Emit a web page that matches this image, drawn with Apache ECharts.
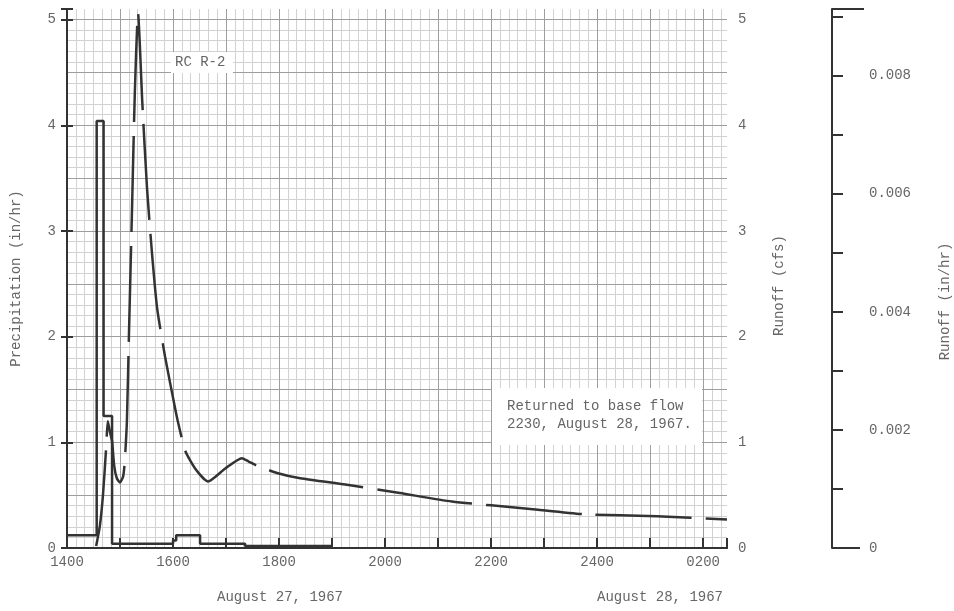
<!DOCTYPE html>
<html><head><meta charset="utf-8">
<script src="https://cdn.jsdelivr.net/npm/echarts@6/dist/echarts.min.js"></script>
<style>html,body{margin:0;padding:0;background:#fff}#c{width:954px;height:611px}</style>
</head><body><div id="c"></div>
<script>
// ---- data ----
const xTickHours = [14, 16, 18, 20, 22, 24, 26];
const xTickLabels = ['1400', '1600', '1800', '2000', '2200', '2400', '0200'];
const inHrTickLabels = ['0', '0.002', '0.004', '0.006', '0.008'];
const dateLabels = ['August 27, 1967', 'August 28, 1967'];
const stationLabel = 'RC R-2';
const noteLines = ['Returned to base flow', '2230, August 28, 1967.'];

// precipitation (in/hr), step held from each start hour
const precipHours = [14.00, 14.56, 14.69, 14.85, 16.00, 16.06, 16.51, 17.36, 19.00];
const precipInHr  = [0.12, 4.04, 1.25, 0.04, 0.07, 0.12, 0.04, 0.02, 0.02];

// runoff (cfs)
const runoffHours = [14.55, 14.62, 14.68, 14.74, 14.77, 14.81, 14.85, 14.89, 14.94, 15.00, 15.06, 15.09,
  15.13, 15.17, 15.23, 15.28, 15.34, 15.42, 15.51, 15.60, 15.70, 15.85, 16.04, 16.09, 16.23, 16.42,
  16.66, 16.98, 17.30, 17.42, 17.58, 17.96, 18.40, 19.25, 20.28, 21.26, 22.74, 23.74, 25.13, 26.45];
const runoffCfs = [0.02, 0.21, 0.51, 0.96, 1.20, 1.10, 1.01, 0.78, 0.66, 0.62, 0.68, 0.82,
  1.20, 2.05, 3.28, 4.32, 5.06, 4.22, 3.40, 2.81, 2.27, 1.81, 1.32, 1.20, 0.92, 0.75,
  0.63, 0.75, 0.85, 0.82, 0.78, 0.71, 0.66, 0.60, 0.52, 0.44, 0.37, 0.32, 0.30, 0.27];

// ---- chart ----
const X_MIN = 14, X_MAX = 26.45, Y_MAX = 5.1, INHR_MAX = 0.00913;
const FONT = '"Liberation Mono", "DejaVu Sans Mono", monospace';
const TXT = '#666';
const DARK = '#333';
const MINOR = '#d2d2d2', MAJOR = '#9e9e9e';
const G = {left: 67, right: 227, top: 9, bottom: 63};
const AX3 = 105; // offset of the in/hr axis

const lbl = {color: TXT, fontFamily: FONT, fontSize: 14};

const chart = echarts.init(document.getElementById('c'), null, {renderer: 'canvas'});
const axLine = {show: true, lineStyle: {color: DARK, width: 2}};
const hiddenGridAxis = (extra) => Object.assign({
  type: 'value', axisLine: {show: false}, axisTick: {show: false}, axisLabel: {show: false},
  z: 1
}, extra);
const intLabel = v => Math.abs(v - Math.round(v)) < 1e-6 ? String(Math.round(v)) : '';

const option = {
  animation: false,
  backgroundColor: '#fff',
  grid: {left: G.left, right: G.right, top: G.top, bottom: G.bottom, containLabel: false, outerBoundsMode: 'none'},
  xAxis: [
    {
      type: 'value', min: X_MIN, max: X_MAX, interval: 1, z: 3,
      axisLine: axLine,
      axisTick: {inside: true, length: 10, lineStyle: {color: DARK, width: 2}},
      axisLabel: Object.assign({}, lbl, {margin: 7,
        formatter: v => { const i = xTickHours.findIndex(h => Math.abs(h - v) < 1e-6); return i >= 0 ? xTickLabels[i] : ''; }}),
      splitLine: {show: false}
    },
    hiddenGridAxis({min: 0, max: (X_MAX - X_MIN) * 6, interval: 1,
      splitLine: {show: true, showMinLine: false, showMaxLine: false, lineStyle: {color: MINOR, width: 1}}}),
    hiddenGridAxis({min: 0, max: X_MAX - X_MIN, interval: 1, position: 'top', z: 2,
      axisLine: axLine,
      splitLine: {show: true, showMinLine: false, showMaxLine: false, lineStyle: {color: MAJOR, width: 1}}})
  ],
  yAxis: [
    {
      type: 'value', position: 'left', min: 0, max: Y_MAX, interval: 1, z: 3,
      name: 'Precipitation (in/hr)', nameLocation: 'middle', nameRotate: 90, nameGap: 44,
      nameTextStyle: lbl,
      axisLine: axLine,
      axisTick: {inside: true, length: 6, lineStyle: {color: DARK, width: 2}},
      axisLabel: Object.assign({}, lbl, {margin: 11, formatter: intLabel}),
      splitLine: {show: false}
    },
    {
      type: 'value', position: 'right', min: 0, max: Y_MAX, interval: 1, z: 3,
      name: 'Runoff (cfs)', nameLocation: 'middle', nameRotate: 90, nameGap: 45,
      nameTextStyle: Object.assign({}, lbl, {padding: [0, 14, 0, 0]}),
      axisLine: axLine,
      axisTick: {inside: true, length: 6, lineStyle: {color: DARK, width: 2}},
      axisLabel: Object.assign({}, lbl, {margin: 11, formatter: intLabel}),
      splitLine: {show: false}
    },
    {
      type: 'value', position: 'right', offset: AX3, min: 0, max: INHR_MAX, interval: 0.001, z: 3,
      name: 'Runoff (in/hr)', nameLocation: 'middle', nameRotate: 90, nameGap: 106,
      nameTextStyle: Object.assign({}, lbl, {padding: [0, 46, 0, 0]}),
      axisLine: axLine,
      axisTick: {inside: false, length: 11, lineStyle: {color: DARK, width: 2}},
      axisLabel: Object.assign({}, lbl, {margin: 37,
        formatter: v => { const k = Math.round(v * 1000);
          if (Math.abs(v * 1000 - k) < 1e-6 && k % 2 === 0 && k / 2 < inHrTickLabels.length) return inHrTickLabels[k / 2];
          return ''; }}),
      splitLine: {show: false}
    },
    hiddenGridAxis({min: 0, max: Y_MAX * 10, interval: 1,
      splitLine: {show: true, showMinLine: false, showMaxLine: false, lineStyle: {color: MINOR, width: 1}}}),
    hiddenGridAxis({min: 0, max: Y_MAX * 10, interval: 5, z: 2,
      splitLine: {show: true, showMinLine: false, showMaxLine: false, lineStyle: {color: MAJOR, width: 1}}})
  ],
  series: [
    {
      name: 'Precipitation', type: 'line', step: 'end', xAxisIndex: 0, yAxisIndex: 0,
      symbol: 'none', z: 5,
      lineStyle: {color: DARK, width: 2.5},
      data: precipHours.map((h, i) => [h, precipInHr[i]])
    },
    {
      name: 'Runoff', type: 'line', xAxisIndex: 0, yAxisIndex: 1,
      symbol: 'none', smooth: 0.2, z: 5,
      lineStyle: {color: DARK, width: 2.5, type: [96, 14], cap: 'butt'},
      data: runoffHours.map((h, i) => [h, runoffCfs[i]])
    }
  ]
};
chart.setOption(option);

// decorations positioned from the grid
const W = 954, H = 611;
const ax3x = W - G.right + AX3;
const yTop = G.top, yBot = H - G.bottom;
const tFont = '14px ' + FONT;
chart.setOption({graphic: [
  {type: 'line', z: 10, shape: {x1: ax3x, y1: yTop, x2: ax3x + 32, y2: yTop}, style: {stroke: DARK, lineWidth: 2}},
  {type: 'line', z: 10, shape: {x1: ax3x, y1: yBot, x2: ax3x + 28, y2: yBot}, style: {stroke: DARK, lineWidth: 2}},
  {type: 'text', x: 280, y: 597, style: {text: dateLabels[0], fill: TXT, font: tFont, align: 'center', verticalAlign: 'middle'}},
  {type: 'text', x: 660, y: 597, style: {text: dateLabels[1], fill: TXT, font: tFont, align: 'center', verticalAlign: 'middle'}},
  {type: 'rect', z: 10, shape: {x: 171, y: 52, width: 62, height: 21}, style: {fill: '#fff'}},
  {type: 'text', z: 11, x: 175, y: 62, style: {text: stationLabel, fill: TXT, font: tFont, align: 'left', verticalAlign: 'middle'}},
  {type: 'rect', z: 10, shape: {x: 492, y: 388, width: 210, height: 57}, style: {fill: '#fff'}},
  {type: 'text', z: 11, x: 507, y: 397, style: {text: noteLines.join('\n'), fill: TXT, font: tFont, lineHeight: 18}}
]});
</script>
</body></html>
